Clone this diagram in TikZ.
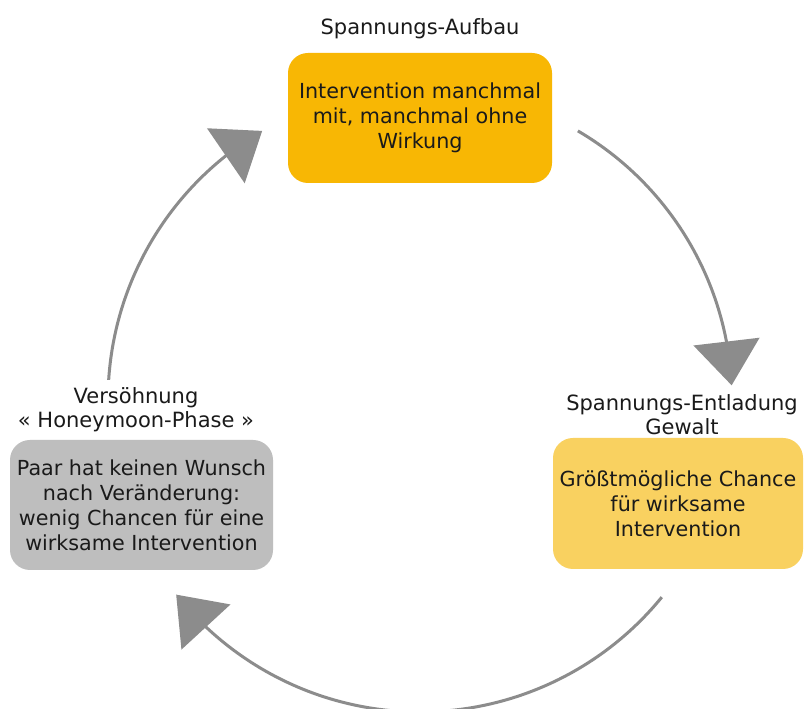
\documentclass[tikz,border=0pt]{standalone}
\usepackage{fontspec}
\setmainfont{DejaVu Sans}
\usetikzlibrary{arrows.meta,bending}
\definecolor{topbox}{HTML}{F8B704}
\definecolor{rightbox}{HTML}{F9D160}
\definecolor{leftbox}{HTML}{BEBEBE}
\definecolor{arcgray}{HTML}{8C8C8C}
\definecolor{txt}{HTML}{1A1A1A}
\begin{document}
\begin{tikzpicture}[x=1pt,y=1pt,
  box/.style={rounded corners=20pt, align=center, inner sep=0pt,
    font=\fontsize{20.7}{25}\selectfont, text=txt},
  phase/.style={align=center, inner sep=0pt, text depth=0pt,
    font=\fontsize{21}{24}\selectfont, text=txt},
  cyc/.style={line width=3pt, draw=arcgray,
    -{Triangle[length=44pt,width=66pt,flex]}}]
\useasboundingbox (0,0) rectangle (806,709);
\fill[white] (0,0) rectangle (806,709);
\coordinate (c) at (420,309);

% boxes
\node[box, fill=topbox, minimum width=264pt, minimum height=130pt] (top) at (420,591)
  {Intervention manchmal\\mit, manchmal ohne\\Wirkung};
\node[box, fill=rightbox, minimum width=250pt, minimum height=131pt] (right) at (678,205.5)
  {Größtmögliche Chance\\für wirksame\\Intervention};
\node[box, fill=leftbox, minimum width=263pt, minimum height=130pt] (left) at (141.5,204)
  {Paar hat keinen Wunsch\\nach Veränderung:\\wenig Chancen für eine\\wirksame Intervention};

% phase labels
\node[phase, anchor=south] (ltop) at (420,674) {Spannungs-Aufbau};
\node[phase, anchor=south] (lright) at (682,274) {Spannungs-Entladung\\Gewalt};
\node[phase, anchor=south] (lleft) at (136,281) {Versöhnung\\« Honeymoon-Phase »};

% cycle arrows
\draw[cyc] (c) ++(59.6:312pt) arc[start angle=59.6, end angle=2.7, radius=312pt];
\draw[cyc] (c) ++(-39.2:312pt) arc[start angle=-39.2, end angle=-141.4, radius=312pt];
\draw[cyc] (c) ++(176.3:312pt) arc[start angle=176.3, end angle=120.4, radius=312pt];
\end{tikzpicture}
\end{document}
